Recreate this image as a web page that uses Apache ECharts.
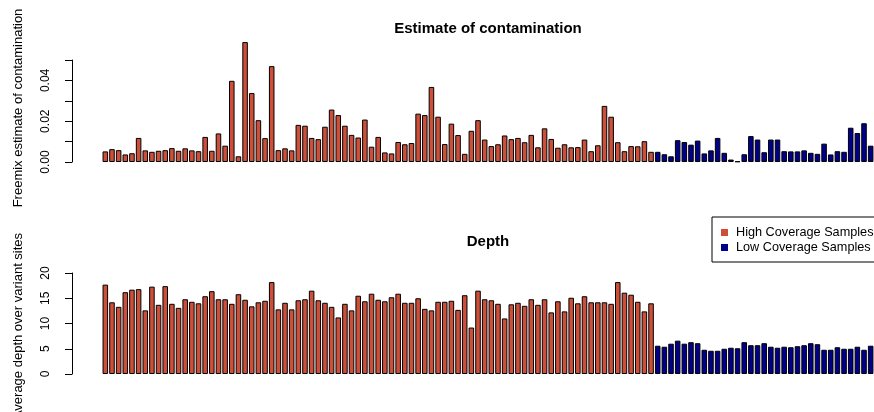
<!DOCTYPE html>
<html>
<head>
<meta charset="utf-8">
<script src="https://cdn.jsdelivr.net/npm/echarts@6/dist/echarts.min.js"></script>
<style>
  html, body { margin: 0; padding: 0; background: #fff; }
  #chart { width: 874px; height: 412px; }
</style>
</head>
<body>
<div id="chart"></div>
<script>
// freemix per sample, high coverage then low coverage
const highContam = [
  0.0052, 0.0063, 0.0058, 0.0037, 0.0043, 0.0118, 0.0057, 0.0050, 0.0055, 0.0058,
  0.0068, 0.0055, 0.0067, 0.0057, 0.0053, 0.0123, 0.0055, 0.0140, 0.0080, 0.0398,
  0.0028, 0.0588, 0.0338, 0.0205, 0.0117, 0.0470, 0.0058, 0.0067, 0.0057, 0.0182,
  0.0178, 0.0118, 0.0112, 0.0173, 0.0257, 0.0230, 0.0178, 0.0133, 0.0120, 0.0208,
  0.0075, 0.0123, 0.0047, 0.0042, 0.0098, 0.0087, 0.0093, 0.0237, 0.0230, 0.0368,
  0.0222, 0.0088, 0.0188, 0.0132, 0.0040, 0.0153, 0.0205, 0.0110, 0.0078, 0.0087,
  0.0130, 0.0112, 0.0118, 0.0097, 0.0133, 0.0072, 0.0165, 0.0113, 0.0070, 0.0087,
  0.0072, 0.0073, 0.0110, 0.0053, 0.0082, 0.0275, 0.0222, 0.0097, 0.0053, 0.0078,
  0.0077, 0.0102, 0.0050
];
const lowContam = [
  0.0050, 0.0038, 0.0028, 0.0107, 0.0098, 0.0085, 0.0105, 0.0042, 0.0057, 0.0118,
  0.0045, 0.0012, 0.0003, 0.0038, 0.0127, 0.0110, 0.0048, 0.0110, 0.0110, 0.0053,
  0.0052, 0.0052, 0.0057, 0.0045, 0.0040, 0.0090, 0.0037, 0.0053, 0.0050, 0.0168,
  0.0142, 0.0190, 0.0080
];

// mean depth over variant sites
const highDepth = [
  17.7, 14.2, 13.3, 16.2, 16.7, 16.8, 12.6, 17.3, 13.7, 17.4,
  13.9, 13.1, 14.8, 14.3, 14.0, 15.4, 16.4, 14.8, 14.8, 13.9,
  15.8, 14.7, 13.4, 14.2, 14.5, 18.2, 12.8, 14.1, 12.8, 14.6,
  14.8, 16.5, 14.6, 14.1, 13.3, 11.2, 13.9, 12.6, 15.5, 14.4,
  15.9, 14.7, 14.4, 15.2, 15.9, 14.1, 14.1, 15.0, 12.9, 12.6,
  14.3, 14.3, 14.5, 12.7, 15.6, 9.2, 16.5, 14.8, 14.6, 13.9,
  11.0, 13.8, 14.1, 13.5, 14.8, 13.7, 14.8, 12.2, 14.4, 12.4,
  15.1, 14.0, 15.4, 14.2, 14.2, 14.2, 13.9, 18.2, 16.1, 15.7,
  14.3, 12.4, 14.0
];
const lowDepth = [
  5.6, 5.4, 6.0, 6.6, 6.0, 6.3, 6.1, 4.8, 4.6, 4.6,
  5.0, 5.2, 5.1, 6.3, 5.7, 5.7, 6.1, 5.4, 5.2, 5.4,
  5.3, 5.5, 5.7, 6.1, 5.9, 4.8, 4.8, 5.3, 5.0, 5.0,
  5.4, 4.8, 5.6
];

const contamTicks = ["0.00", "0.02", "0.04"];
const depthTicks = ["0", "5", "10", "15", "20"];

const HIGH = "High Coverage Samples";
const LOW = "Low Coverage Samples";
const RED = "#CD4F39";
const BLUE = "#00008B";
const FONT = "Liberation Sans";

const nHigh = highContam.length;
const samples = [];
for (let i = 0; i < nHigh + lowContam.length; i++) samples.push("S" + (i + 1));

function padHigh(vals) {
  return samples.map((_, i) => (i < nHigh ? vals[i] : "-"));
}
function padLow(vals) {
  return samples.map((_, i) => (i >= nHigh ? vals[i - nHigh] : "-"));
}

function barSeries(name, color, data, idx) {
  return {
    name,
    type: "bar",
    xAxisIndex: idx,
    yAxisIndex: idx,
    data,
    clip: false,
    barGap: "-100%",
    barCategoryGap: "16.67%",
    itemStyle: { color, borderColor: "#000", borderWidth: 1 },
    emphasis: { disabled: true },
    animation: false,
  };
}

function yAxisFor(idx, max, interval, labels) {
  return {
    type: "value",
    gridIndex: idx,
    min: 0,
    max,
    interval,
    offset: 30,
    axisLine: { show: true, lineStyle: { color: "#000", width: 1 } },
    axisTick: { show: true, length: 7, lineStyle: { color: "#000" } },
    splitLine: { show: false },
    axisLabel: {
      rotate: 90,
      margin: 20,
      color: "#000",
      fontFamily: FONT,
      fontSize: 12,
      formatter: (v) => {
        const s = idx === 0 ? v.toFixed(2) : String(Math.round(v));
        return labels.includes(s) ? s : "";
      },
    },
  };
}

const chart = echarts.init(document.getElementById("chart"), null, { renderer: "canvas" });

chart.setOption({
  animation: false,
  backgroundColor: "#fff",
  grid: [
    { left: 102, right: -1, top: 60, height: 102 },
    { left: 102, right: -1, top: 273, height: 101 },
  ],
  xAxis: [
    { type: "category", gridIndex: 0, data: samples, show: false },
    { type: "category", gridIndex: 1, data: samples, show: false },
  ],
  yAxis: [
    yAxisFor(0, 0.05, 0.01, contamTicks),
    yAxisFor(1, 20, 5, depthTicks),
  ],
  legend: {
    data: [HIGH, LOW],
    orient: "vertical",
    left: 712,
    top: 217,
    padding: [9, 8, 8, 9],
    itemGap: 2,
    itemWidth: 7,
    itemHeight: 7,
    icon: "rect",
    itemStyle: { borderWidth: 0 },
    borderColor: "#000",
    borderWidth: 1,
    selectedMode: false,
    textStyle: { color: "#000", fontFamily: FONT, fontSize: 12.7, padding: [0, 0, 0, 3] },
  },
  graphic: [
    {
      type: "text", x: 488, y: 29,
      style: { text: "Estimate of contamination", font: "bold 15px " + FONT, fill: "#000", align: "center", verticalAlign: "middle" },
    },
    {
      type: "text", x: 488, y: 242,
      style: { text: "Depth", font: "bold 15px " + FONT, fill: "#000", align: "center", verticalAlign: "middle" },
    },
    {
      type: "text", x: 18, y: 108, rotation: Math.PI / 2,
      style: { text: "Freemix estimate of contamination", font: "13px " + FONT, fill: "#000", align: "center", verticalAlign: "middle" },
    },
    {
      type: "text", x: 18, y: 326, rotation: Math.PI / 2,
      style: { text: "Average depth over variant sites", font: "13px " + FONT, fill: "#000", align: "center", verticalAlign: "middle" },
    },
  ],
  series: [
    barSeries(HIGH, RED, padHigh(highContam), 0),
    barSeries(LOW, BLUE, padLow(lowContam), 0),
    barSeries(HIGH, RED, padHigh(highDepth), 1),
    barSeries(LOW, BLUE, padLow(lowDepth), 1),
  ],
});
</script>
</body>
</html>
